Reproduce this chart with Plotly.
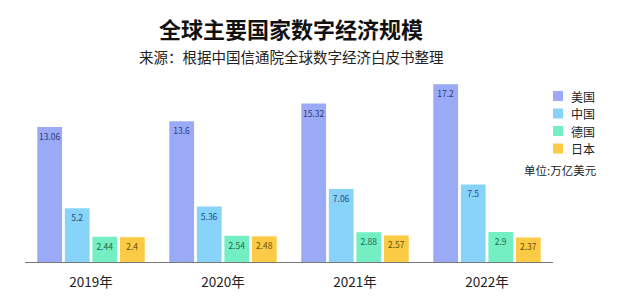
import plotly.graph_objects as go

years = ["2019年", "2020年", "2021年", "2022年"]
series_names = ["美国", "中国", "德国", "日本"]
usa = [13.06, 13.6, 15.32, 17.2]
china = [5.2, 5.36, 7.06, 7.5]
germany = [2.44, 2.54, 2.88, 2.9]
japan = [2.4, 2.48, 2.57, 2.37]
values = [usa, china, germany, japan]

colors = ["#9aaaf6", "#88d3fa", "#74eec3", "#fbcb45"]
text_colors = ["#2d3a78", "#1f4f80", "#1d6b4c", "#6b4e0a"]

FONT = "Noto Sans CJK SC"

W, H = 623, 303
l, r, t, b = 25, 70, 80, 41
pw, ph = W - l - r, H - t - b


def px(xp):
    return (xp - l) / pw


def py(yp):
    return (H - b - yp) / ph


fig = go.Figure()
for name, vals, c, tc in zip(series_names, values, colors, text_colors):
    fig.add_trace(go.Bar(
        x=years, y=vals, name=name,
        marker=dict(color=c, line=dict(width=0)),
        text=[str(v) for v in vals],
        textposition="inside", insidetextanchor="end",
        textangle=0,
        textfont=dict(size=8.5, color=tc, family=FONT),
        constraintext="none",
        hoverinfo="skip",
        showlegend=False,
    ))

fig.update_layout(
    width=W, height=H,
    margin=dict(l=l, r=r, t=t, b=b, autoexpand=False),
    paper_bgcolor="white", plot_bgcolor="white",
    barmode="group", bargap=0.165, bargroupgap=0.1,
    font=dict(family=FONT, color="#222"),
    showlegend=False,
)
fig.update_xaxes(
    showline=True, linecolor="#777", linewidth=1,
    ticks="", tickfont=dict(size=13.5, family=FONT, color="#222"),
    ticklabelstandoff=8,
    showgrid=False,
)
fig.update_yaxes(
    range=[0, 17.6], visible=False, showgrid=False, zeroline=False,
)

# legend (drawn from series names and colours)
leg_top, leg_step = 96, 17.5
for i, (name, c) in enumerate(zip(series_names, colors)):
    yc = leg_top + i * leg_step
    fig.add_shape(
        type="rect", xref="paper", yref="paper",
        x0=px(553), x1=px(563), y0=py(yc - 5), y1=py(yc + 5),
        fillcolor=c, line=dict(width=0),
    )
    fig.add_annotation(
        text=name, xref="paper", yref="paper",
        x=px(570), y=py(yc), xanchor="left", yanchor="middle", showarrow=False,
        borderpad=0,
        font=dict(size=12, family=FONT, color="#222"),
    )

fig.add_annotation(
    text="<b>全球主要国家数字经济规模</b>", xref="paper", yref="paper",
    x=px(291), y=py(28), xanchor="center", yanchor="middle", showarrow=False,
    font=dict(size=22, family=FONT, color="#111"),
)
fig.add_annotation(
    text="来源：根据中国信通院全球数字经济白皮书整理", xref="paper", yref="paper",
    x=px(291), y=py(56), xanchor="center", yanchor="middle", showarrow=False,
    font=dict(size=14.5, family=FONT, color="#222"),
)
fig.add_annotation(
    text="单位:万亿美元", xref="paper", yref="paper",
    x=px(560), y=py(170), xanchor="center", yanchor="middle", showarrow=False,
    font=dict(size=11.5, family=FONT, color="#222"),
)

fig.write_html("out.html")
